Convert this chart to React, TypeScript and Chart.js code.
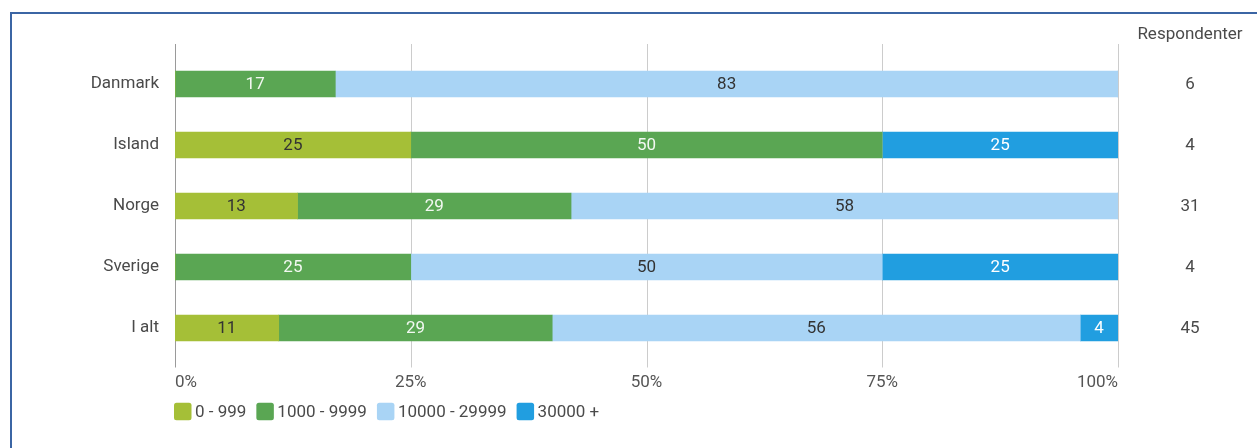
import React, { useEffect, useRef } from "react";
import { Chart, registerables } from "chart.js";

Chart.register(...registerables);

const categories = ["Danmark", "Island", "Norge", "Sverige", "I alt"];
const seriesNames = ["0 - 999", "1000 - 9999", "10000 - 29999", "30000 +"];
const s0to999 = [0, 25, 13, 0, 11];
const s1000to9999 = [17, 50, 29, 25, 29];
const s10000to29999 = [83, 0, 58, 50, 56];
const s30000plus = [0, 25, 0, 25, 4];
const respondents = [6, 4, 31, 4, 45];
const respondentsTitle = "Respondenter";
const xTicks = [0, 25, 50, 75, 100];

const colors = ["#a5bf37", "#5aa653", "#a9d4f5", "#219ee0"];
const labelColors = ["#333333", "rgba(255,255,255,0.92)", "#333333", "#ffffff"];
const FONT = "Roboto, 'Noto Sans', sans-serif";
const FS = 17;
const TEXT = "#4a4a4a";

export default function App() {
  const ref = useRef<HTMLCanvasElement | null>(null);

  useEffect(() => {
    if (!ref.current) return;
    const series = [s0to999, s1000to9999, s10000to29999, s30000plus];

    const gridPlugin = {
      id: "customGrid",
      beforeDatasetsDraw(chart: any) {
        const { ctx, chartArea, scales } = chart;
        ctx.save();
        xTicks.forEach((v, i) => {
          const x = Math.round(scales.x.getPixelForValue(v)) + 0.5;
          ctx.strokeStyle = i === 0 ? "#9a9a9a" : "#cccccc";
          ctx.lineWidth = 1;
          ctx.beginPath();
          ctx.moveTo(x, 44);
          ctx.lineTo(x, chartArea.bottom + 9);
          ctx.stroke();
        });
        ctx.restore();
      },
    };

    const labelsPlugin = {
      id: "customLabels",
      afterDatasetsDraw(chart: any) {
        const { ctx, scales } = chart;
        ctx.save();
        ctx.font = `${FS}px ${FONT}`;
        ctx.textAlign = "center";
        ctx.textBaseline = "middle";
        chart.data.datasets.forEach((ds: any, di: number) => {
          const meta = chart.getDatasetMeta(di);
          meta.data.forEach((bar: any, i: number) => {
            const v = ds.data[i];
            if (!v) return;
            const cx = (bar.x + bar.base) / 2;
            ctx.fillStyle = labelColors[di];
            ctx.fillText(String(v), cx, bar.y + 1);
          });
        });
        // right column
        ctx.fillStyle = TEXT;
        ctx.fillText(respondentsTitle, 1190, 35);
        respondents.forEach((r, i) => {
          ctx.fillText(String(r), 1190, scales.y.getPixelForValue(i) + 1);
        });
        // legend
        let x = chart.chartArea.left - 1;
        const y = 411.5;
        const box = 17.5;
        ctx.textAlign = "left";
        seriesNames.forEach((name, i) => {
          ctx.fillStyle = colors[i];
          ctx.beginPath();
          (ctx as any).roundRect(x, y - box / 2, box, box, 2.5);
          ctx.fill();
          x += box + 3.5;
          ctx.fillStyle = TEXT;
          ctx.fillText(name, x, y + 1);
          x += ctx.measureText(name).width + 10;
        });
        ctx.restore();
      },
    };

    const chart = new Chart(ref.current, {
      type: "bar",
      data: {
        labels: categories,
        datasets: series.map((d, i) => ({
          label: seriesNames[i],
          data: d,
          backgroundColor: colors[i],
          borderWidth: 0,
          barThickness: 26,
        })),
      },
      options: {
        indexAxis: "y",
        animation: false,
        responsive: false,
        maintainAspectRatio: false,
        layout: { padding: { top: 53.5, right: 139, left: 0, bottom: 49.5 } },
        plugins: {
          legend: { display: false },
          tooltip: { enabled: false },
          title: { display: false },
        },
        scales: {
          x: {
            stacked: true,
            min: 0,
            max: 100,
            grid: { display: false, drawTicks: false },
            border: { display: false },
            afterFit: (s: any) => {
              s.height = 40;
            },
            afterBuildTicks: (s: any) => {
              s.ticks = xTicks.map((v) => ({ value: v }));
            },
            ticks: {
              align: "inner",
              padding: 14,
              color: "#555555",
              font: { family: FONT, size: FS },
              callback: (v: any) => `${v}%`,
            },
          },
          y: {
            stacked: true,
            grid: { display: false, drawTicks: false },
            border: { display: false },
            afterFit: (s: any) => {
              s.width = 175;
            },
            ticks: {
              padding: 16,
              color: TEXT,
              font: { family: FONT, size: FS },
            },
          },
        },
      },
      plugins: [gridPlugin, labelsPlugin],
    });
    return () => chart.destroy();
  }, []);

  return (
    <>
      <div
        style={{
          position: "fixed",
          left: 10,
          top: 12,
          right: 0,
          bottom: 0,
          borderTop: "2px solid #3b65a4",
          borderLeft: "2px solid #3b65a4",
          background: "#ffffff",
        }}
      />
      <canvas
        ref={ref}
        width={1257}
        height={448}
        style={{ position: "fixed", left: 0, top: 0, width: 1257, height: 448 }}
      />
    </>
  );
}
